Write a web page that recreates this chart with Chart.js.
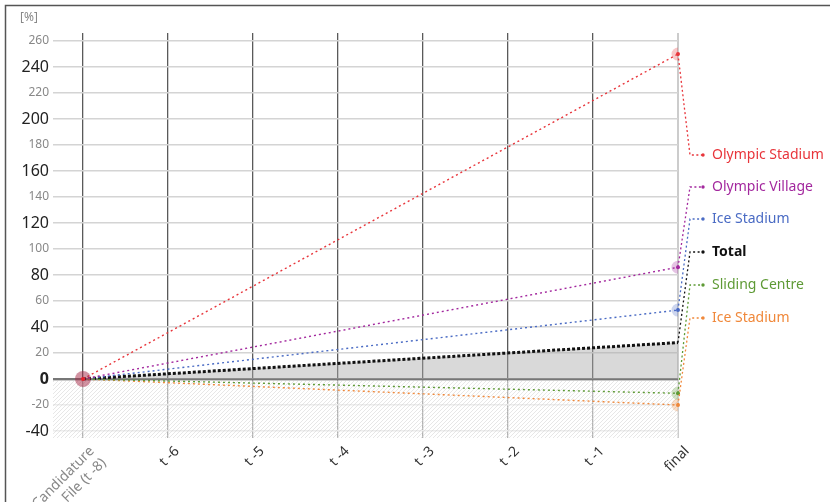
<!DOCTYPE html>
<html>
<head>
<meta charset="utf-8">
<script src="https://cdn.jsdelivr.net/npm/chart.js@4/dist/chart.umd.min.js"></script>
<style>
  html, body { margin: 0; padding: 0; background: #fff; }
  #wrap { width: 830px; height: 502px; position: relative; }
</style>
</head>
<body>
<div id="wrap"><canvas id="myChart"></canvas></div>
<script>
// categories (x axis)
const categories = [["Candidature", "File (t -8)"], "t -6", "t -5", "t -4", "t -3", "t -2", "t -1", "final"];

// series values, only first and final periods known
const olympicStadium = [0, null, null, null, null, null, null, 250];
const olympicVillage = [0, null, null, null, null, null, null, 86];
const iceStadiumBlue = [0, null, null, null, null, null, null, 53];
const total = [0, null, null, null, null, null, null, 28];
const slidingCentre = [0, null, null, null, null, null, null, -11];
const iceStadiumOrange = [0, null, null, null, null, null, null, -20];

const seriesNames = ["Olympic Stadium", "Olympic Village", "Ice Stadium", "Total", "Sliding Centre", "Ice Stadium"];
const seriesColors = ["#e8353b", "#a3289e", "#4a6bc4", "#111111", "#5e9a35", "#f0883a"];
const seriesFades = ["rgba(232,53,59,0.28)", "rgba(163,40,158,0.28)", "rgba(74,107,196,0.28)", "rgba(0,0,0,0)", "rgba(94,154,53,0.28)", "rgba(240,136,58,0.28)"];

// y axis ticks
const yTicks = [-40, -20, 0, 20, 40, 60, 80, 100, 120, 140, 160, 180, 200, 220, 240, 260];

// label rows on the right (pixel y)
const labelRows = [155, 187, 219, 252, 285, 318];

const FONT = "'Noto Sans', 'Open Sans', sans-serif";

const toPoints = (arr) => arr.map((v, i) => ({ x: i, y: v }));
const allSeries = [olympicStadium, olympicVillage, iceStadiumBlue, total, slidingCentre, iceStadiumOrange];

const datasets = allSeries.map((arr, i) => {
  const isTotal = seriesNames[i] === "Total";
  return {
    label: seriesNames[i],
    data: toPoints(arr),
    spanGaps: true,
    borderColor: seriesColors[i],
    borderWidth: isTotal ? 3 : 1.4,
    borderDash: isTotal ? [3, 2] : [2, 3],
    fill: isTotal ? "origin" : false,
    backgroundColor: isTotal ? "rgba(170,170,170,0.45)" : seriesFades[i],
    pointRadius: (ctx) => (ctx.dataIndex === 0 ? (i === 0 ? 8 : 0) : isTotal ? 0 : 6.5),
    pointBackgroundColor: (ctx) => (ctx.dataIndex === 0 ? "rgba(165,40,70,0.5)" : seriesFades[i]),
    pointBorderWidth: 0,
    order: isTotal ? 10 : i,
  };
});

// draws frame, [%] unit, hatch below zero, center dots, connectors and labels
const extrasPlugin = {
  id: "extras",
  beforeDatasetsDraw(chart) {
    const { ctx, chartArea, scales } = chart;
    const y0 = scales.y.getPixelForValue(0);
    ctx.save();
    ctx.beginPath();
    ctx.rect(chartArea.left, y0 + 1.5, chartArea.right - chartArea.left, chartArea.bottom - y0 - 1.5);
    ctx.clip();
    ctx.fillStyle = "rgba(255,255,255,0.55)";
    ctx.fillRect(chartArea.left, y0, chartArea.right - chartArea.left, chartArea.bottom - y0);
    ctx.strokeStyle = "rgba(205,205,205,0.6)";
    ctx.lineWidth = 0.8;
    for (let x = chartArea.left - 80; x < chartArea.right + 80; x += 4) {
      ctx.beginPath();
      ctx.moveTo(x, chartArea.bottom);
      ctx.lineTo(x + (chartArea.bottom - y0), y0);
      ctx.stroke();
    }
    ctx.restore();
  },
  afterDatasetsDraw(chart) {
    const { ctx } = chart;
    ctx.save();
    // frame
    ctx.strokeStyle = "#555";
    ctx.lineWidth = 1.5;
    ctx.beginPath();
    ctx.moveTo(5.5, 502);
    ctx.lineTo(5.5, 5.5);
    ctx.lineTo(830, 5.5);
    ctx.stroke();
    // unit
    ctx.fillStyle = "#888";
    ctx.font = "12px " + FONT;
    ctx.textAlign = "center";
    ctx.textBaseline = "middle";
    ctx.fillText("[%]", 29, 18);

    chart.data.datasets.forEach((ds, i) => {
      const meta = chart.getDatasetMeta(i);
      const first = meta.data[0];
      const last = meta.data[meta.data.length - 1];
      if (i === 0) {
        ctx.fillStyle = "#e8202a";
        ctx.beginPath();
        ctx.arc(first.x, first.y, 2, 0, Math.PI * 2);
        ctx.fill();
      }
      ctx.fillStyle = seriesColors[i];
      if (ds.label !== "Total") {
        ctx.beginPath();
        ctx.arc(last.x, last.y, 2, 0, Math.PI * 2);
        ctx.fill();
      }
      // connector
      const ly = labelRows[i];
      ctx.strokeStyle = seriesColors[i];
      ctx.lineWidth = 1.3;
      ctx.setLineDash([2, 2.5]);
      ctx.beginPath();
      ctx.moveTo(last.x, last.y);
      ctx.lineTo(last.x + 12, ly);
      ctx.lineTo(last.x + 24, ly);
      ctx.stroke();
      ctx.setLineDash([]);
      ctx.beginPath();
      ctx.arc(last.x + 25, ly, 1.7, 0, Math.PI * 2);
      ctx.fill();
      // label
      ctx.font = (ds.label === "Total" ? "bold " : "") + "14px " + FONT;
      ctx.textAlign = "left";
      ctx.textBaseline = "middle";
      ctx.fillText(ds.label, last.x + 34, ly);
    });
    ctx.restore();
  },
};

const ctx = document.getElementById("myChart").getContext("2d");
const myChart = new Chart(ctx, {
  type: "line",
  data: { datasets: datasets },
  plugins: [extrasPlugin],
  options: {
    responsive: true,
    maintainAspectRatio: false,
    animation: false,
    events: [],
    layout: { padding: { left: 5, right: 152, top: 33, bottom: 0 } },
    plugins: { legend: { display: false }, tooltip: { enabled: false } },
    scales: {
      x: {
        type: "linear",
        min: -0.353,
        max: 7,
        afterBuildTicks: (axis) => {
          axis.ticks = categories.map((c, i) => ({ value: i }));
        },
        afterFit: (axis) => {
          axis.height = 64;
        },
        border: { display: false },
        grid: {
          drawTicks: false,
          color: (c) => (c.tick && c.tick.value === 7 ? "#cccccc" : "#5a5a5a"),
          lineWidth: (c) => (c.tick && c.tick.value === 7 ? 2 : 1.3),
        },
        ticks: {
          autoSkip: false,
          minRotation: 45,
          maxRotation: 45,
          padding: 5,
          labelOffset: 9,
          font: { family: FONT, size: 14 },
          color: (c) => (c.tick && c.tick.value === 0 ? "#888" : "#333"),
          callback: (value) => categories[value],
        },
      },
      y: {
        min: -45.4,
        max: 266.2,
        afterBuildTicks: (axis) => {
          axis.ticks = yTicks.map((v) => ({ value: v }));
        },
        afterFit: (axis) => {
          axis.width = 48;
        },
        border: { display: false },
        grid: {
          drawTicks: false,
          color: (c) => (c.tick && c.tick.value === 0 ? "#777" : "#d4d4d4"),
          lineWidth: (c) => (c.tick && c.tick.value === 0 ? 2.5 : 1.5),
        },
        ticks: {
          padding: 4,
          font: (c) => {
            const v = c.tick ? c.tick.value : 1;
            if (v === 0) return { family: FONT, size: 16, weight: "bold" };
            return v % 40 === 0 ? { family: FONT, size: 16 } : { family: FONT, size: 12 };
          },
          color: (c) => (c.tick && c.tick.value % 40 === 0 ? "#222" : "#888"),
        },
      },
    },
  },
});
</script>
</body>
</html>
